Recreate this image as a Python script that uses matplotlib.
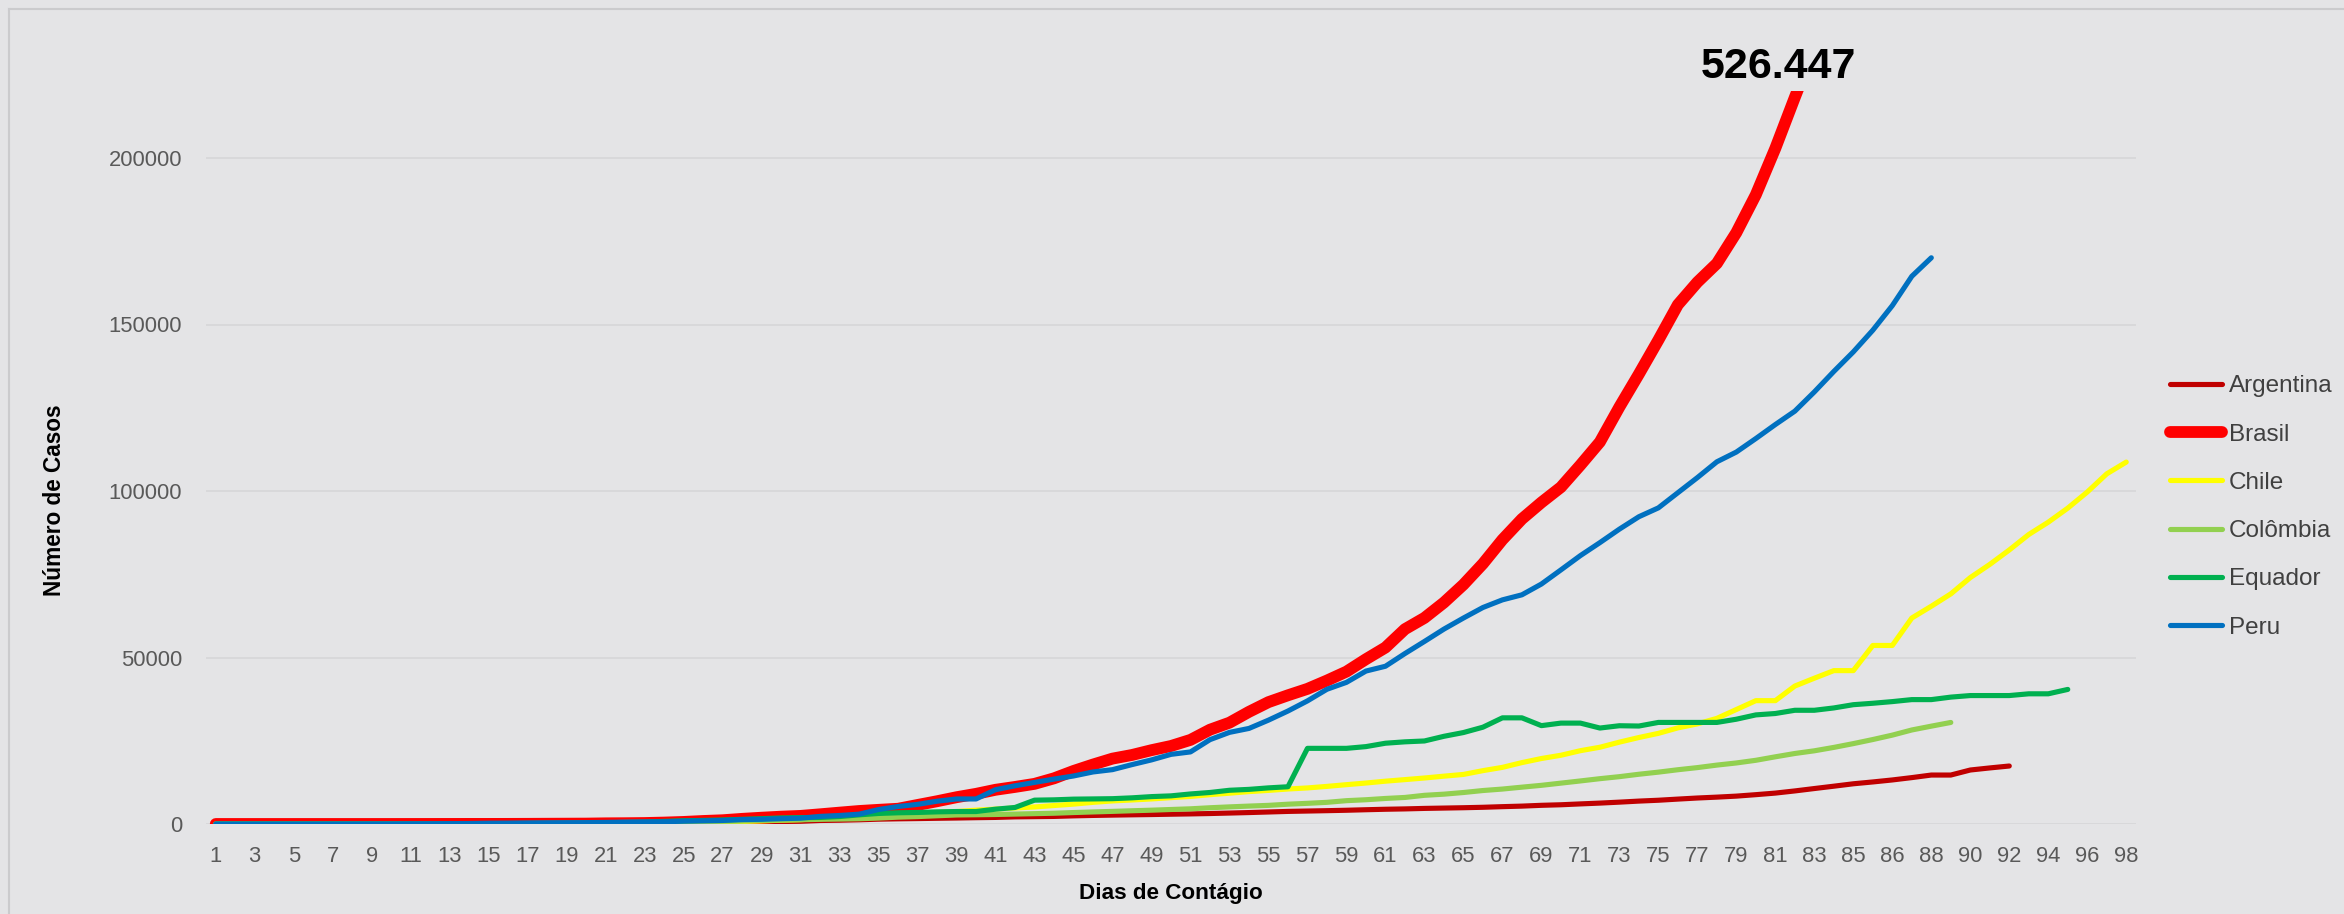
import matplotlib
matplotlib.use("Agg")
import matplotlib.pyplot as plt
import numpy as np
from matplotlib.lines import Line2D

# ---------------- data ----------------
days = [str(d) for d in range(1, 86)] + ["85"] + [str(d) for d in range(86, 99)]

argentina = [0, 0, 1, 1, 1, 2, 8, 9, 12, 12, 17, 19, 19, 31, 34, 45, 56, 65, 79, 97,
             128, 158, 225, 266, 301, 387, 502, 589, 690, 745, 820, 1054, 1133, 1265,
             1451, 1554, 1628, 1715, 1795, 1894, 1975, 2142, 2208, 2277, 2443, 2571,
             2669, 2758, 2839, 2941, 3031, 3144, 3288, 3435, 3607, 3780, 3892, 4003,
             4127, 4285, 4428, 4532, 4681, 4783, 4887, 5020, 5208, 5371, 5611, 5776,
             6034, 6278, 6563, 6879, 7134, 7479, 7805, 8068, 8371, 8809, 9283, 9931,
             10649, 11353, 12076, 12628, 13228, 13933, 14702, 14702, 16214, 16838, 17415]

brasil = [1, 1, 1, 1, 1, 2, 2, 2, 2, 3, 8, 13, 19, 25, 25, 34, 52, 77, 98, 121, 200,
          234, 291, 428, 621, 904, 1128, 1546, 1891, 2201, 2433, 2915, 3417, 3904, 4256,
          4579, 5717, 6836, 8044, 9056, 10278, 11130, 12056, 13717, 15927, 17857, 19638,
          20727, 22169, 23430, 25262, 28320, 30425, 33682, 36599, 38654, 40581, 43079,
          45757, 49492, 52995, 58509, 61888, 66501, 71886, 78162, 85380, 91589, 96559,
          101147, 107780, 114715, 125218, 135106, 145328, 155939, 162699, 168331, 177589,
          188974, 202918, 218223, 233142, 241080, 254220, 271628, 291579, 310087, 330890,
          347398, 363211, 374898, 391222, 411821, 438238, 465166, 498440, 514849, 526447]

chile = [0, 0, 0, 0, 0, 0, 0, 1, 3, 4, 5, 7, 10, 13, 17, 23, 33, 43, 61, 75, 156, 201,
         238, 342, 434, 537, 632, 746, 922, 1142, 1306, 1610, 1909, 2139, 2449, 2738,
         3031, 3404, 3737, 4161, 4471, 4815, 5116, 5546, 5972, 6501, 6927, 7213, 7525,
         7917, 8273, 8807, 9252, 9730, 10088, 10507, 10832, 11296, 11812, 12306, 12858,
         13331, 13813, 14365, 14885, 16023, 17008, 18435, 19663, 20643, 22016, 23048,
         24581, 25972, 27219, 28866, 30063, 31721, 34381, 37040, 37040, 41428, 43781,
         46059, 46059, 53617, 53617, 61857, 65393, 69102, 73997, 77961, 82289, 86943,
         90638, 94858, 99688, 105159, 108686]

colombia = [0, 0, 1, 1, 1, 3, 3, 9, 9, 16, 24, 45, 57, 75, 102, 128, 158, 196, 231, 306,
            378, 470, 491, 539, 608, 702, 798, 906, 1065, 1161, 1267, 1406, 1485, 1579,
            1780, 2054, 2223, 2473, 2709, 2776, 2852, 2979, 3105, 3233, 3439, 3621, 3792,
            3977, 4149, 4356, 4561, 4881, 5142, 5379, 5597, 5949, 6207, 6507, 7006, 7285,
            7668, 7973, 8613, 8959, 9456, 10051, 10495, 11063, 11613, 12272, 12930, 13610,
            14216, 14939, 15574, 16295, 16935, 17687, 18330, 19131, 20177, 21175, 21981,
            23003, 24141, 25366, 26688, 28236, 29383, 30493]

equador = [0, 1, 6, 7, 7, 10, 13, 13, 14, 15, 15, 17, 17, 17, 23, 28, 37, 58, 111, 168,
           260, 426, 532, 789, 981, 1082, 1211, 1403, 1595, 1823, 1924, 1962, 2240, 2748,
           3163, 3368, 3465, 3646, 3747, 3747, 4450, 4965, 7161, 7257, 7466, 7529, 7603,
           7858, 8225, 8450, 9022, 9468, 10128, 10398, 10850, 11183, 22719, 22719, 22719,
           23240, 24258, 24675, 24934, 26336, 27464, 29071, 31881, 31881, 29538, 30298,
           30298, 28818, 29509, 29420, 30502, 30502, 30502, 30502, 31467, 32763, 33182,
           34151, 34151, 34854, 35828, 36258, 36756, 37355, 37355, 38103, 38571, 38571,
           38571, 39098, 39098, 40414]

peru = [0, 1, 6, 7, 9, 11, 17, 22, 38, 43, 71, 86, 117, 145, 234, 263, 318, 363, 395,
        416, 480, 580, 635, 671, 852, 950, 1065, 1323, 1414, 1595, 1746, 2281, 2561, 2954,
        4342, 5256, 5897, 6848, 7519, 7519, 10303, 11475, 12491, 13489, 14420, 15628,
        16325, 17837, 19250, 20914, 21648, 25331, 27517, 28699, 31190, 33931, 36976,
        40459, 42534, 45928, 47372, 51189, 54817, 58526, 61847, 65015, 67307, 68822,
        72059, 76306, 80604, 84495, 88541, 92273, 94933, 99483, 104020, 108769, 111698,
        115754, 119959, 123979, 129751, 135905, 141779, 148285, 155671, 164476, 170039]

series_names = ["Argentina", "Brasil", "Chile", "Colômbia", "Equador", "Peru"]
series_values = [argentina, brasil, chile, colombia, equador, peru]
brasil_total_label = "526.447"

# ---------------- style ----------------
W, H = 2344, 914
BG = "#E4E4E6"
GRID = "#D6D6D8"
colors = ["#C00000", "#FF0000", "#FFFF00", "#92D050", "#00B050", "#0070C0"]
widths = [3.7, 8.5, 3.7, 3.7, 3.7, 3.7]
plt.rcParams["font.family"] = ["Liberation Sans", "DejaVu Sans"]

fig = plt.figure(figsize=(W / 100, H / 100), dpi=100, facecolor=BG)
ax = fig.add_axes([206 / W, 1 - 824 / H, 1930 / W, (824 - 91.4) / H])
ax.set_facecolor(BG)
for s in ax.spines.values():
    s.set_visible(False)

handles = []
for k, (name, vals) in enumerate(zip(series_names, series_values)):
    x = np.arange(len(vals))
    ln, = ax.plot(x, vals, color=colors[k], lw=widths[k], label=name,
                  solid_capstyle="round", solid_joinstyle="round", zorder=3 + k)
    handles.append(ln)

ax.set_xlim(-0.5, len(days) - 0.5)
ax.set_ylim(0, 220000)
yt = np.arange(0, 200001, 50000)
ax.set_yticks(yt)
ax.set_yticklabels([str(v) for v in yt])
ax.set_xticks(np.arange(0, len(days), 2))
ax.set_xticklabels(days[::2])
ax.yaxis.grid(True, color=GRID, lw=1.2)
ax.xaxis.grid(False)
ax.set_axisbelow(True)
ax.tick_params(axis="both", length=0, labelsize=15.8, labelcolor="#595959")
ax.tick_params(axis="y", pad=17.3)
ax.tick_params(axis="x", pad=16)

ax.text((1778 - 206) / 1930, (824 - 67) / (824 - 91.4), brasil_total_label,
        transform=ax.transAxes, ha="center", va="center", fontsize=31,
        fontweight="bold", color="black", clip_on=False)

fig.text(55 / W, 1 - 500 / H, "Número de Casos", rotation=90, ha="center",
         va="center", fontsize=16.3, fontweight="bold", color="black")
fig.text(1171 / W, 1 - 893 / H, "Dias de Contágio", ha="center", va="center",
         fontsize=16.2, fontweight="bold", color="black")

leg = fig.legend(handles=handles, labels=series_names, loc="center left",
                 bbox_to_anchor=(2169.5 / W, 1 - 507 / H), frameon=False,
                 fontsize=17.5, handlelength=2.18, handletextpad=0.26,
                 labelspacing=1.08, borderpad=0, borderaxespad=0)
for t in leg.get_texts():
    t.set_color("#404040")

# outer chart border (top and left visible)
fig.add_artist(Line2D([9 / W, 1], [1 - 9 / H, 1 - 9 / H], transform=fig.transFigure,
                      color="#CBCBCD", lw=1.5))
fig.add_artist(Line2D([9 / W, 9 / W], [0, 1 - 9 / H], transform=fig.transFigure,
                      color="#CBCBCD", lw=1.5))

fig.savefig("out.png", dpi=100, facecolor=BG)
